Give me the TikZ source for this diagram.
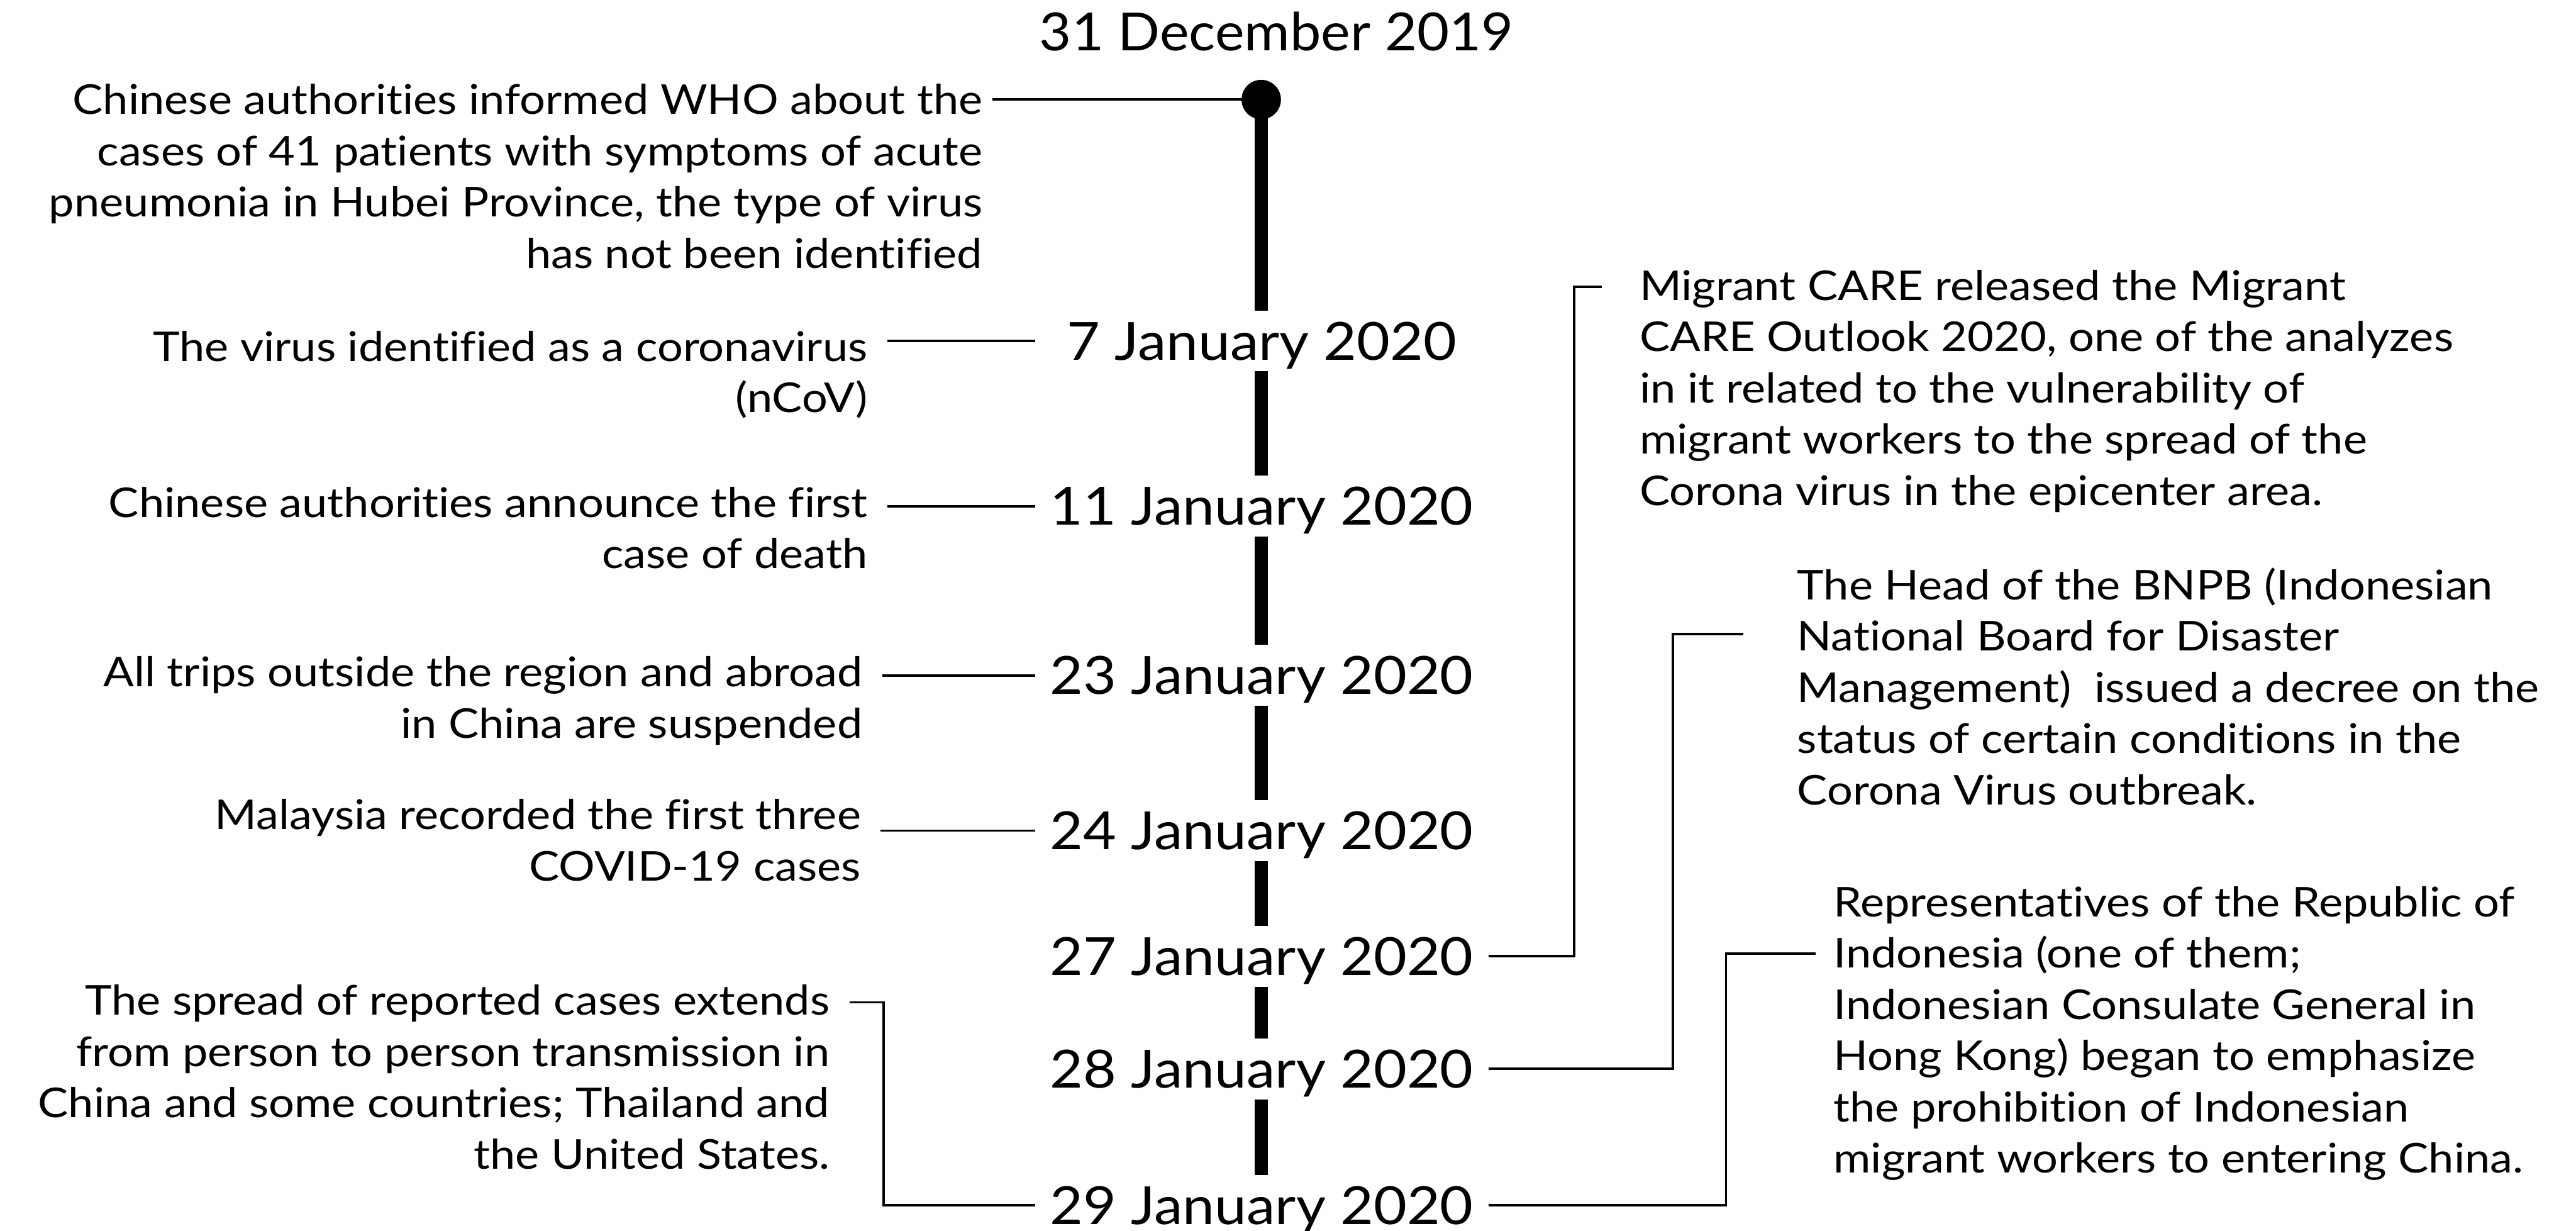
\documentclass[tikz,border=0pt]{standalone}
\usepackage{fontspec}
\setmainfont{Lato}
\newfontfamily\bodyf[FakeStretch=1.105, Ligatures=NoCommon]{Lato}
\newfontfamily\datef[FakeStretch=1.09, Ligatures=NoCommon]{Lato}
\newfontfamily\topdatef[FakeStretch=1.055, Ligatures=NoCommon]{Lato}
\usetikzlibrary{calc}
\pgfdeclarelayer{bg}
\pgfsetlayers{bg,main}
\begin{document}
\begin{tikzpicture}[x=1pt,y=-1pt,
  every node/.style={inner sep=0pt, outer sep=0pt},
  datefont/.style={font=\datef\fontsize{32}{38}\selectfont},
  datebox/.style={datefont, anchor=base, text height=30pt, text depth=7pt, minimum width=276pt, fill=white},
  txtbox/.style={font=\bodyf\fontsize{25}{31.2}\selectfont},
  lblock/.style={txtbox, align=right, anchor=north east},
  rblock/.style={txtbox, align=left, anchor=north west},
  conn/.style={line width=1.5pt},
  axisline/.style={line width=8pt}
]
\useasboundingbox (0,0) rectangle (1568,749);

% top
\node[font=\topdatef\fontsize{32}{38}\selectfont, anchor=base] (d31) at (777,31) {31 December 2019};
\node[circle, fill=black, minimum size=24pt] (dot) at (767.7,60.6) {};

% dates
\node[datebox] (d7)  at (768,219)   {7 January 2020};
\node[datebox] (d11) at (768,319.5) {11 January 2020};
\node[datebox] (d23) at (768,422.5) {23 January 2020};
\node[datebox] (d24) at (768,517)   {24 January 2020};
\node[datebox] (d27) at (768,593.5) {27 January 2020};
\node[datebox] (d28) at (768,662)   {28 January 2020};
\node[datebox] (d29) at (768,745)   {29 January 2020};

\begin{pgfonlayer}{bg}
\draw[axisline] (dot.center) -- (dot.center |- d29.center);
\end{pgfonlayer}

% left blocks
\node[lblock] (b1) at (598,47.8) {\strut Chinese authorities informed WHO about the\\ cases of 41 patients with symptoms of acute\\ pneumonia in Hubei Province, the type of virus\\ has not been identified};
\draw[conn, shorten <=6pt] (b1.east |- dot) -- (dot);

\node[lblock] (t7) at (528,198) {\strut The virus identified as a coronavirus\\ (nCoV)};
\draw[conn, shorten <=12pt] (t7.east |- d7) -- (d7.west);

\node[lblock] (t11) at (528,293) {\strut Chinese authorities announce the first\\ case of death};
\draw[conn, shorten <=12pt] (t11.east |- d11) -- (d11.west);

\node[lblock] (t23) at (525,396) {\strut All trips outside the region and abroad\\ in China are suspended};
\draw[conn, shorten <=12pt] (t23.east |- d23) -- (d23.west);

\node[lblock] (t24) at (524,483) {\strut Malaysia recorded the first three\\ COVID-19 cases};
\draw[conn, shorten <=12pt] (t24.east |- d24) -- (d24.west);

\node[lblock] (tsp) at (505,596) {\strut The spread of reported cases extends\\ from person to person transmission in\\ China and some countries; Thailand and\\ the United States.};
\coordinate (ksp) at (538,610);
\draw[conn, shorten <=12pt] (tsp.east |- ksp) -- (ksp) |- (d29.west);

% right blocks
\node[rblock] (m27) at (998,160.8) {\strut Migrant CARE released the Migrant\\ CARE Outlook 2020, one of the analyzes\\ in it related to the vulnerability of\\ migrant workers to the spread of the\\ Corona virus in the epicenter area.};
\coordinate (k27) at (958,174.5);
\draw[conn, shorten >=23pt] (d27.east) -| (k27) -- (m27.west |- k27);

\node[rblock] (m28) at (1094,343) {\strut The Head of the BNPB (Indonesian\\ National Board for Disaster\\ Management)~ issued a decree on the\\ status of certain conditions in the\\ Corona Virus outbreak.};
\coordinate (k28) at (1018.4,385.7);
\draw[conn, shorten >=33pt] (d28.east) -| (k28) -- (m28.west |- k28);

\node[rblock] (m29) at (1116,536) {\strut Representatives of the Republic of\\ Indonesia (one of them;\\ Indonesian Consulate General in\\ Hong Kong) began to emphasize\\ the prohibition of Indonesian\\ migrant workers to entering China.};
\coordinate (k29) at (1050.6,580.5);
\draw[conn, shorten >=11pt] (d29.east) -| (k29) -- (m29.west |- k29);
\end{tikzpicture}
\end{document}
